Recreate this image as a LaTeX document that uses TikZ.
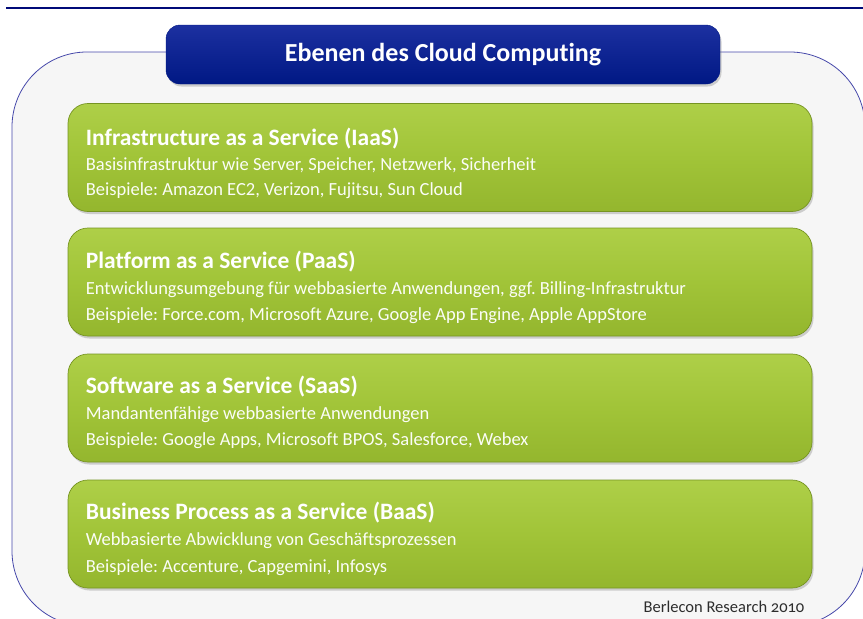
\documentclass[tikz,border=0pt]{standalone}
\usepackage{fontspec}
\setmainfont[Ligatures=NoCommon]{Carlito}
\newfontfamily\oldnumfont[Numbers=OldStyle]{Carlito}
\frenchspacing
\usepackage{tikz}
\usetikzlibrary{positioning, shadows}
\definecolor{cnavy}{RGB}{0, 24, 132}
\definecolor{cnavytop}{RGB}{28, 48, 160}
\definecolor{cline}{RGB}{0, 10, 120}
\definecolor{cframe}{RGB}{70, 72, 170}
\definecolor{cpanel}{RGB}{246, 246, 246}
\definecolor{cgreen}{RGB}{161, 196, 56}
\definecolor{cgreentop}{RGB}{174, 207, 72}
\definecolor{cgreenbot}{RGB}{148, 182, 46}
\definecolor{cgreenrim}{RGB}{118, 148, 34}
\definecolor{cfoot}{RGB}{45, 45, 45}

\begin{document}
\begin{tikzpicture}[x=1pt, y=-1pt,
  layer/.style={rectangle, rounded corners=20pt, minimum width=744pt,
                minimum height=108pt, draw=cgreenrim, line width=0.7pt,
                top color=cgreentop, bottom color=cgreenbot, middle color=cgreen,
                drop shadow={opacity=0.35, shadow xshift=1.5pt, shadow yshift=-2.5pt}},
  ltitle/.style={anchor=west, text=white, inner sep=0pt,
                 font=\bfseries\fontsize{23.5}{26}\selectfont},
  ltext/.style={anchor=west, text=white!96!cgreen, inner sep=0pt,
                font=\fontsize{18.5}{21}\selectfont}]
  \useasboundingbox (0,0) rectangle (863,619);
  \clip (0,0) rectangle (863,619);

  % Rule at the top
  \draw[cline, line width=2pt] (6,7.5) -- (863,7.5);

  % Outer panel
  \draw[cframe, fill=cpanel, line width=0.8pt, rounded corners=75pt]
    (12,52) rectangle (865,626);

  % Heading
  \node[rectangle, rounded corners=14pt, minimum width=554pt, minimum height=59pt,
        draw=cnavy, top color=cnavytop, bottom color=cnavy, text=white,
        drop shadow={opacity=0.35, shadow xshift=1.5pt, shadow yshift=-2.5pt},
        font=\bfseries\fontsize{26}{29}\selectfont] (head) at (443,54.5)
    {Ebenen des Cloud Computing};

  % Layers
  \node[layer] (iaas) at (440,157.5) {};
  \node[layer] (paas) at (440,282) {};
  \node[layer] (saas) at (440,408) {};
  \node[layer] (baas) at (440,534) {};

  % Layer texts
  \node[ltitle] (iaas-t) at ([xshift=18pt, yshift=-35pt]iaas.north west)
    {Infrastructure as a Service (IaaS)};
  \node[ltext] (iaas-a) at ([xshift=18pt, yshift=-62pt]iaas.north west)
    {Basisinfrastruktur wie Server, Speicher, Netzwerk, Sicherheit};
  \node[ltext] (iaas-b) at ([xshift=18pt, yshift=-88pt]iaas.north west)
    {Beispiele: Amazon EC2, Verizon, Fujitsu, Sun Cloud};

  \node[ltitle] (paas-t) at ([xshift=18pt, yshift=-34pt]paas.north west)
    {Platform as a Service (PaaS)};
  \node[ltext] (paas-a) at ([xshift=18pt, yshift=-62pt]paas.north west)
    {Entwicklungsumgebung für webbasierte Anwendungen, ggf. Billing-Infrastruktur};
  \node[ltext] (paas-b) at ([xshift=18pt, yshift=-88pt]paas.north west)
    {Beispiele: Force.com, Microsoft Azure, Google App Engine, Apple AppStore};

  \node[ltitle] (saas-t) at ([xshift=18pt, yshift=-33pt]saas.north west)
    {Software as a Service (SaaS)};
  \node[ltext] (saas-a) at ([xshift=18pt, yshift=-61pt]saas.north west)
    {Mandantenfähige webbasierte Anwendungen};
  \node[ltext] (saas-b) at ([xshift=18pt, yshift=-87pt]saas.north west)
    {Beispiele: Google Apps, Microsoft BPOS, Salesforce, Webex};

  \node[ltitle] (baas-t) at ([xshift=18pt, yshift=-33pt]baas.north west)
    {Business Process as a Service (BaaS)};
  \node[ltext] (baas-a) at ([xshift=18pt, yshift=-61pt]baas.north west)
    {Webbasierte Abwicklung von Geschäftsprozessen};
  \node[ltext] (baas-b) at ([xshift=18pt, yshift=-88pt]baas.north west)
    {Beispiele: Accenture, Capgemini, Infosys};

  % Source
  \node[text=cfoot, inner sep=0pt, font=\oldnumfont\fontsize{16.5}{19}\selectfont]
    (src) at (724,607) {Berlecon Research 2010};
\end{tikzpicture}
\end{document}
